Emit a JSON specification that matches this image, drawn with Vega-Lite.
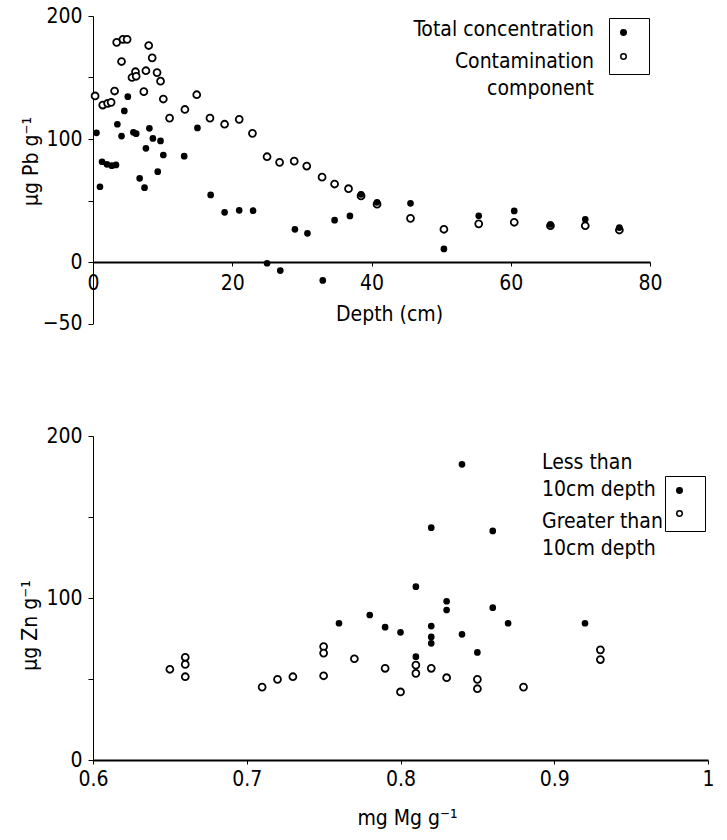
{
  "$schema": "https://vega.github.io/schema/vega-lite/v6.json",
  "background": "white",
  "padding": {"left": 19, "top": 5, "right": 5, "bottom": 5},
  "config": {
    "font": "DejaVu Sans Condensed, Liberation Sans, sans-serif",
    "view": {"stroke": null},
    "style": {"guide-label": {"lineHeight": 27}},
    "axis": {
      "domainColor": "black", "tickColor": "black", "labelColor": "black", "titleColor": "black",
      "labelFontSize": 21, "titleFontSize": 21, "titleFontWeight": "normal", "grid": false,
      "labelFont": "DejaVu Sans Condensed, Liberation Sans, sans-serif", "titleFont": "DejaVu Sans Condensed, Liberation Sans, sans-serif"
    },
    "legend": {"labelFont": "DejaVu Sans Condensed, Liberation Sans, sans-serif", "labelFontSize": 21, "labelColor": "black"}
  },
  "datasets": {
    "pb": [
      {"depth": 0.3, "pb": 135, "series": "Contamination component"},
      {"depth": 1.4, "pb": 127.6, "series": "Contamination component"},
      {"depth": 2.1, "pb": 129, "series": "Contamination component"},
      {"depth": 2.6, "pb": 129.8, "series": "Contamination component"},
      {"depth": 3.1, "pb": 139, "series": "Contamination component"},
      {"depth": 3.4, "pb": 178.6, "series": "Contamination component"},
      {"depth": 4.3, "pb": 181, "series": "Contamination component"},
      {"depth": 4.9, "pb": 181, "series": "Contamination component"},
      {"depth": 4.1, "pb": 163, "series": "Contamination component"},
      {"depth": 6.1, "pb": 154.7, "series": "Contamination component"},
      {"depth": 5.6, "pb": 150, "series": "Contamination component"},
      {"depth": 6.2, "pb": 151, "series": "Contamination component"},
      {"depth": 7.6, "pb": 155.5, "series": "Contamination component"},
      {"depth": 7.3, "pb": 138.5, "series": "Contamination component"},
      {"depth": 8.0, "pb": 176, "series": "Contamination component"},
      {"depth": 8.5, "pb": 166, "series": "Contamination component"},
      {"depth": 9.2, "pb": 154, "series": "Contamination component"},
      {"depth": 9.7, "pb": 147, "series": "Contamination component"},
      {"depth": 10.1, "pb": 132.5, "series": "Contamination component"},
      {"depth": 11.0, "pb": 117, "series": "Contamination component"},
      {"depth": 13.2, "pb": 124, "series": "Contamination component"},
      {"depth": 14.9, "pb": 136, "series": "Contamination component"},
      {"depth": 16.8, "pb": 117, "series": "Contamination component"},
      {"depth": 18.9, "pb": 112, "series": "Contamination component"},
      {"depth": 21.0, "pb": 116, "series": "Contamination component"},
      {"depth": 22.9, "pb": 104.6, "series": "Contamination component"},
      {"depth": 25.0, "pb": 85.6, "series": "Contamination component"},
      {"depth": 26.8, "pb": 81, "series": "Contamination component"},
      {"depth": 28.9, "pb": 82, "series": "Contamination component"},
      {"depth": 30.7, "pb": 78, "series": "Contamination component"},
      {"depth": 32.9, "pb": 69, "series": "Contamination component"},
      {"depth": 34.7, "pb": 63.4, "series": "Contamination component"},
      {"depth": 36.7, "pb": 59.6, "series": "Contamination component"},
      {"depth": 38.5, "pb": 53.7, "series": "Contamination component"},
      {"depth": 40.8, "pb": 47, "series": "Contamination component"},
      {"depth": 45.6, "pb": 35.5, "series": "Contamination component"},
      {"depth": 50.4, "pb": 26.6, "series": "Contamination component"},
      {"depth": 55.4, "pb": 31, "series": "Contamination component"},
      {"depth": 60.5, "pb": 32.3, "series": "Contamination component"},
      {"depth": 65.7, "pb": 29.5, "series": "Contamination component"},
      {"depth": 70.7, "pb": 29.5, "series": "Contamination component"},
      {"depth": 75.6, "pb": 26, "series": "Contamination component"},
      {"depth": 0.5, "pb": 105, "series": "Total concentration"},
      {"depth": 1.0, "pb": 61.2, "series": "Total concentration"},
      {"depth": 1.3, "pb": 81.5, "series": "Total concentration"},
      {"depth": 2.0, "pb": 79.4, "series": "Total concentration"},
      {"depth": 2.7, "pb": 78.3, "series": "Total concentration"},
      {"depth": 3.3, "pb": 78.9, "series": "Total concentration"},
      {"depth": 3.5, "pb": 112, "series": "Total concentration"},
      {"depth": 4.1, "pb": 102.4, "series": "Total concentration"},
      {"depth": 4.5, "pb": 122.8, "series": "Total concentration"},
      {"depth": 5.0, "pb": 134.4, "series": "Total concentration"},
      {"depth": 5.8, "pb": 105.4, "series": "Total concentration"},
      {"depth": 6.2, "pb": 104.3, "series": "Total concentration"},
      {"depth": 6.7, "pb": 68, "series": "Total concentration"},
      {"depth": 7.4, "pb": 60.4, "series": "Total concentration"},
      {"depth": 7.6, "pb": 92.4, "series": "Total concentration"},
      {"depth": 8.1, "pb": 108.7, "series": "Total concentration"},
      {"depth": 8.6, "pb": 100.5, "series": "Total concentration"},
      {"depth": 9.3, "pb": 73.4, "series": "Total concentration"},
      {"depth": 9.7, "pb": 98.4, "series": "Total concentration"},
      {"depth": 10.1, "pb": 87, "series": "Total concentration"},
      {"depth": 13.1, "pb": 86, "series": "Total concentration"},
      {"depth": 15.0, "pb": 109, "series": "Total concentration"},
      {"depth": 16.9, "pb": 54.5, "series": "Total concentration"},
      {"depth": 18.9, "pb": 40.4, "series": "Total concentration"},
      {"depth": 21.0, "pb": 42, "series": "Total concentration"},
      {"depth": 23.0, "pb": 41.7, "series": "Total concentration"},
      {"depth": 25.0, "pb": -1, "series": "Total concentration"},
      {"depth": 26.9, "pb": -7, "series": "Total concentration"},
      {"depth": 29.0, "pb": 26.6, "series": "Total concentration"},
      {"depth": 30.8, "pb": 23.3, "series": "Total concentration"},
      {"depth": 33.0, "pb": -15, "series": "Total concentration"},
      {"depth": 34.7, "pb": 34, "series": "Total concentration"},
      {"depth": 36.9, "pb": 37.5, "series": "Total concentration"},
      {"depth": 38.5, "pb": 55, "series": "Total concentration"},
      {"depth": 40.8, "pb": 48.5, "series": "Total concentration"},
      {"depth": 45.6, "pb": 47.7, "series": "Total concentration"},
      {"depth": 50.4, "pb": 10.6, "series": "Total concentration"},
      {"depth": 55.4, "pb": 37.6, "series": "Total concentration"},
      {"depth": 60.5, "pb": 41.5, "series": "Total concentration"},
      {"depth": 65.7, "pb": 30.5, "series": "Total concentration"},
      {"depth": 70.7, "pb": 34.7, "series": "Total concentration"},
      {"depth": 75.6, "pb": 28, "series": "Total concentration"}
    ],
    "zn": [
      {"mg": 0.76, "zn": 84.4, "group": "Less than 10cm depth"},
      {"mg": 0.78, "zn": 89.5, "group": "Less than 10cm depth"},
      {"mg": 0.79, "zn": 82, "group": "Less than 10cm depth"},
      {"mg": 0.80, "zn": 78.8, "group": "Less than 10cm depth"},
      {"mg": 0.81, "zn": 107, "group": "Less than 10cm depth"},
      {"mg": 0.81, "zn": 63.8, "group": "Less than 10cm depth"},
      {"mg": 0.82, "zn": 143.4, "group": "Less than 10cm depth"},
      {"mg": 0.82, "zn": 82.7, "group": "Less than 10cm depth"},
      {"mg": 0.82, "zn": 76, "group": "Less than 10cm depth"},
      {"mg": 0.82, "zn": 72, "group": "Less than 10cm depth"},
      {"mg": 0.83, "zn": 98, "group": "Less than 10cm depth"},
      {"mg": 0.83, "zn": 92.6, "group": "Less than 10cm depth"},
      {"mg": 0.84, "zn": 182.5, "group": "Less than 10cm depth"},
      {"mg": 0.84, "zn": 77.6, "group": "Less than 10cm depth"},
      {"mg": 0.85, "zn": 66.4, "group": "Less than 10cm depth"},
      {"mg": 0.86, "zn": 141.4, "group": "Less than 10cm depth"},
      {"mg": 0.86, "zn": 94, "group": "Less than 10cm depth"},
      {"mg": 0.87, "zn": 84.4, "group": "Less than 10cm depth"},
      {"mg": 0.92, "zn": 84.4, "group": "Less than 10cm depth"},
      {"mg": 0.65, "zn": 56, "group": "Greater than 10cm depth"},
      {"mg": 0.66, "zn": 63.4, "group": "Greater than 10cm depth"},
      {"mg": 0.66, "zn": 59, "group": "Greater than 10cm depth"},
      {"mg": 0.66, "zn": 51.4, "group": "Greater than 10cm depth"},
      {"mg": 0.71, "zn": 45, "group": "Greater than 10cm depth"},
      {"mg": 0.72, "zn": 49.8, "group": "Greater than 10cm depth"},
      {"mg": 0.73, "zn": 51.4, "group": "Greater than 10cm depth"},
      {"mg": 0.75, "zn": 70, "group": "Greater than 10cm depth"},
      {"mg": 0.75, "zn": 66, "group": "Greater than 10cm depth"},
      {"mg": 0.75, "zn": 52, "group": "Greater than 10cm depth"},
      {"mg": 0.77, "zn": 62.5, "group": "Greater than 10cm depth"},
      {"mg": 0.79, "zn": 56.6, "group": "Greater than 10cm depth"},
      {"mg": 0.80, "zn": 42, "group": "Greater than 10cm depth"},
      {"mg": 0.81, "zn": 58.6, "group": "Greater than 10cm depth"},
      {"mg": 0.81, "zn": 53.5, "group": "Greater than 10cm depth"},
      {"mg": 0.82, "zn": 56.6, "group": "Greater than 10cm depth"},
      {"mg": 0.83, "zn": 50.8, "group": "Greater than 10cm depth"},
      {"mg": 0.85, "zn": 49.8, "group": "Greater than 10cm depth"},
      {"mg": 0.85, "zn": 44, "group": "Greater than 10cm depth"},
      {"mg": 0.88, "zn": 45, "group": "Greater than 10cm depth"},
      {"mg": 0.93, "zn": 68, "group": "Greater than 10cm depth"},
      {"mg": 0.93, "zn": 62, "group": "Greater than 10cm depth"}
    ]
  },
  "bounds": "flush",
  "spacing": 112,
  "resolve": {
    "scale": {"fill": "independent", "shape": "independent", "size": "independent"},
    "legend": {"fill": "independent", "shape": "independent"}
  },
  "vconcat": [
    {
      "width": 557,
      "height": 307.5,
      "data": {"name": "pb"},
      "mark": {"type": "point", "shape": "circle", "stroke": "black", "strokeWidth": 1.8, "opacity": 1},
      "encoding": {
        "x": {
          "field": "depth", "type": "quantitative", "title": "Depth (cm)",
          "scale": {"domain": [0, 80], "nice": false, "zero": false},
          "axis": {"values": [0, 20, 40, 60, 80], "offset": -61.5, "tickSize": 4, "labelPadding": 6, "titleX": 296, "titleY": 52, "titleBaseline": "middle", "domainWidth": 2, "labelFlush": false}
        },
        "y": {
          "field": "pb", "type": "quantitative", "title": "μg Pb g⁻¹",
          "scale": {"domain": [-50, 200], "nice": false},
          "axis": {"values": [-50, 0, 50, 100, 150, 200], "labelExpr": "datum.value == 50 || datum.value == 150 ? '' : datum.label", "tickSize": 5, "labelPadding": 6, "titleX": -62, "titleY": 145, "titleBaseline": "middle", "labelFlush": false}
        },
        "fill": {
          "field": "series", "type": "nominal",
          "scale": {"domain": ["Total concentration", "Contamination component"], "range": ["black", "white"]},
          "legend": {"orient": "none", "legendX": 516, "legendY": 2, "title": null, "padding": 11, "strokeColor": "black", "symbolType": "circle", "symbolSize": 30, "symbolStrokeColor": "black", "symbolStrokeWidth": 1.5, "labelExpr": "''", "labelFontSize": 1, "labelOffset": 11, "rowPadding": 11}
        },
        "size": {
          "field": "series", "type": "nominal",
          "scale": {"domain": ["Contamination component", "Total concentration"], "range": [48, 24]},
          "legend": null
        },
        "shape": {
          "field": "series", "type": "nominal", "sort": "descending",
          "scale": {"range": ["circle", "circle"]},
          "legend": {"orient": "none", "legendX": 480, "legendY": -8, "title": null, "symbolOpacity": 0, "symbolSize": 1, "labelAlign": "right", "labelBaseline": "top", "labelOffset": 0, "rowPadding": -7, "labelLimit": 0, "labelExpr": "datum.label == 'Contamination component' ? ['Contamination', 'component'] : datum.label"}
        }
      }
    },
    {
      "width": 615,
      "height": 324,
      "data": {"name": "zn"},
      "mark": {"type": "point", "shape": "circle", "stroke": "black", "strokeWidth": 1.8, "opacity": 1},
      "encoding": {
        "x": {
          "field": "mg", "type": "quantitative", "title": "mg Mg g⁻¹",
          "scale": {"domain": [0.6, 1.0], "nice": false, "zero": false},
          "axis": {"values": [0.6, 0.7, 0.8, 0.9, 1.0], "format": "~f", "tickSize": 4, "labelPadding": 4, "titleX": 314, "titleY": 58, "titleBaseline": "middle", "domainWidth": 2, "labelFlush": false}
        },
        "y": {
          "field": "zn", "type": "quantitative", "title": "μg Zn g⁻¹",
          "scale": {"domain": [0, 200], "nice": false},
          "axis": {"values": [0, 50, 100, 150, 200], "labelExpr": "datum.value == 50 || datum.value == 150 ? '' : datum.label", "tickSize": 5, "labelPadding": 6, "titleX": -63, "titleY": 189, "titleBaseline": "middle", "labelFlush": false}
        },
        "fill": {
          "field": "group", "type": "nominal",
          "scale": {"domain": ["Less than 10cm depth", "Greater than 10cm depth"], "range": ["black", "white"]},
          "legend": {"orient": "none", "legendX": 572, "legendY": 40, "title": null, "padding": 11, "strokeColor": "black", "symbolType": "circle", "symbolSize": 30, "symbolStrokeColor": "black", "symbolStrokeWidth": 1.5, "labelExpr": "''", "labelFontSize": 1, "labelOffset": 11, "rowPadding": 10}
        },
        "size": {
          "field": "group", "type": "nominal",
          "scale": {"domain": ["Greater than 10cm depth", "Less than 10cm depth"], "range": [48, 24]},
          "legend": null
        },
        "shape": {
          "field": "group", "type": "nominal", "sort": "descending",
          "scale": {"range": ["circle", "circle"]},
          "legend": {"orient": "none", "legendX": 428, "legendY": 5, "title": null, "symbolOpacity": 0, "symbolSize": 1, "labelAlign": "left", "labelBaseline": "top", "labelOffset": 0, "rowPadding": -24, "labelLimit": 0, "labelExpr": "split(replace(datum.label, ' 10cm', '|10cm'), '|')"}
        }
      }
    }
  ]
}
